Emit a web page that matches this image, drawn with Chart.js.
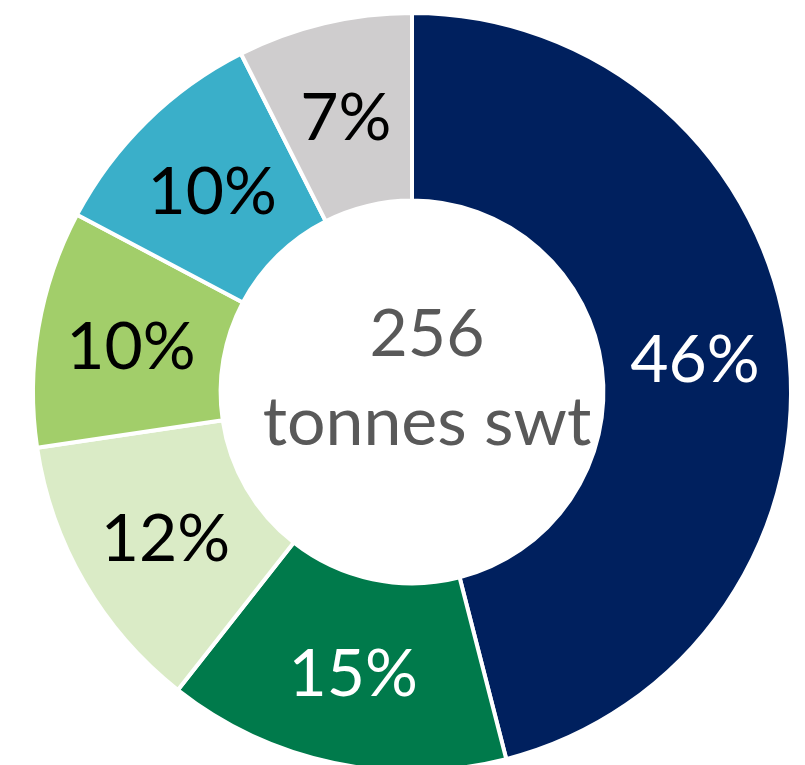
<!DOCTYPE html>
<html>
<head>
<meta charset="utf-8">
<script src="https://cdn.jsdelivr.net/npm/chart.js@4"></script>
<style>
  html, body { margin: 0; padding: 0; background: #fff; overflow: hidden; }
  #wrap { width: 805px; height: 775px; }
</style>
</head>
<body>
<div id="wrap"><canvas id="myChart" width="805" height="775"></canvas></div>
<script>
var categories = ["Segment A", "Segment B", "Segment C", "Segment D", "Segment E", "Segment F"];
// shares in percent
var shares = [46.0, 14.6, 12.05, 10.1, 9.8, 7.45];
var sliceColors = ["#00205E", "#007A4B", "#DAEBC6", "#A2CE6A", "#3AAFC9", "#CFCDCE"];
var labelColors = ["#ffffff", "#ffffff", "#000000", "#000000", "#000000", "#000000"];
var centerLines = ["256", "tonnes swt"];

var fontFamily = "Lato, 'Open Sans', sans-serif";

var sliceLabels = {
  id: "sliceLabels",
  afterDatasetsDraw: function (chart) {
    var ctx = chart.ctx;
    var meta = chart.getDatasetMeta(0);
    ctx.save();
    ctx.font = "66px " + fontFamily;
    ctx.textAlign = "center";
    ctx.textBaseline = "middle";
    meta.data.forEach(function (arc, i) {
      var p = arc.getCenterPoint();
      ctx.fillStyle = labelColors[i];
      ctx.fillText(Math.round(shares[i]) + "%", p.x, p.y + 4);
    });
    ctx.restore();
  },
};

var centerText = {
  id: "centerText",
  afterDraw: function (chart) {
    var ctx = chart.ctx;
    var arc = chart.getDatasetMeta(0).data[0];
    ctx.save();
    ctx.fillStyle = "#595959";
    ctx.textAlign = "center";
    ctx.textBaseline = "alphabetic";
    ctx.font = "66px " + fontFamily;
    ctx.fillText(centerLines[0], arc.x + 15, arc.y - 36);
    ctx.font = "68px " + fontFamily;
    ctx.fillText(centerLines[1], arc.x + 15, arc.y + 53);
    ctx.restore();
  },
};

window.onload = function () {
  var ctx = document.getElementById("myChart").getContext("2d");
  new Chart(ctx, {
    type: "doughnut",
    data: {
      labels: categories,
      datasets: [
        {
          data: shares,
          backgroundColor: sliceColors,
          borderColor: "#ffffff",
          borderWidth: 4,
        },
      ],
    },
    options: {
      responsive: false,
      animation: false,
      cutout: "50.5%",
      layout: { padding: { left: 31, right: 12, top: 11, bottom: 2 } },
      plugins: {
        legend: { display: false },
        tooltip: { enabled: false },
      },
    },
    plugins: [sliceLabels, centerText],
  });
};
</script>
</body>
</html>
